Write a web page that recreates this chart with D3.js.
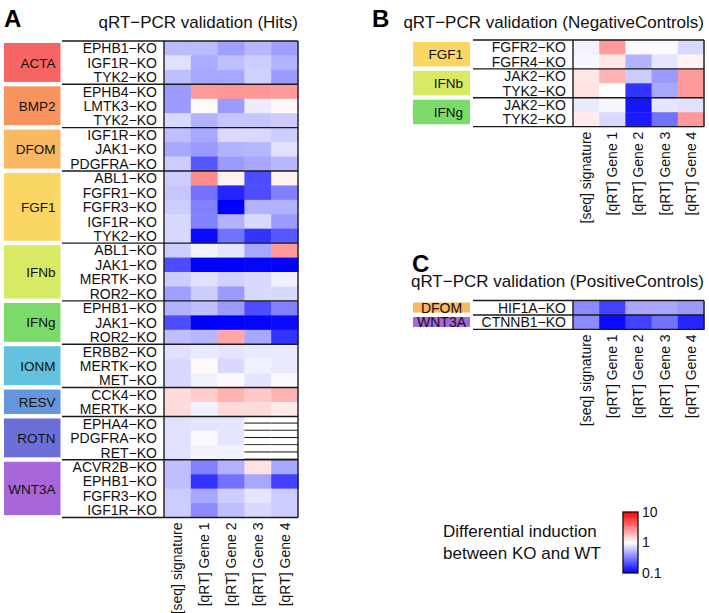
<!DOCTYPE html>
<html><head><meta charset="utf-8">
<script src="https://cdn.jsdelivr.net/npm/d3@7"></script>
<style>
html,body{margin:0;padding:0;background:#fff;}
svg{display:block;font-family:"Liberation Sans",Arial,Helvetica,sans-serif;}
</style></head>
<body><svg id="chart" width="709" height="613"></svg>
<script>
// ---------- data ----------
const columns = ["[seq] signature","[qRT] Gene 1","[qRT] Gene 2","[qRT] Gene 3","[qRT] Gene 4"];

const groupColors = {ACTA:"#f76464",BMP2:"#f8935f",DFOM:"#f8b864",FGF1:"#fad765",IFNb:"#d8ea64",
  IFNg:"#7bda6a",IONM:"#62c2dd",RESV:"#6396da",ROTN:"#6d6fd8",WNT3A:"#a767d8"};

// Panel A: Hits
const hitsGroup = ["ACTA","ACTA","ACTA","BMP2","BMP2","BMP2","DFOM","DFOM","DFOM",
  "FGF1","FGF1","FGF1","FGF1","FGF1","IFNb","IFNb","IFNb","IFNb","IFNg","IFNg","IFNg",
  "IONM","IONM","IONM","RESV","RESV","ROTN","ROTN","ROTN","WNT3A","WNT3A","WNT3A","WNT3A"];
const hitsKO = ["EPHB1−KO","IGF1R−KO","TYK2−KO","EPHB4−KO","LMTK3−KO","TYK2−KO",
  "IGF1R−KO","JAK1−KO","PDGFRA−KO","ABL1−KO","FGFR1−KO","FGFR3−KO","IGF1R−KO","TYK2−KO",
  "ABL1−KO","JAK1−KO","MERTK−KO","ROR2−KO","EPHB1−KO","JAK1−KO","ROR2−KO",
  "ERBB2−KO","MERTK−KO","MET−KO","CCK4−KO","MERTK−KO","EPHA4−KO","PDGFRA−KO","RET−KO",
  "ACVR2B−KO","EPHB1−KO","FGFR3−KO","IGF1R−KO"];
const hitsValues = [
  [0.54,0.54,0.42,0.52,0.42],
  [0.76,0.47,0.56,0.63,0.50],
  [0.56,0.45,0.45,0.66,0.40],
  [0.40,2.5,2.6,2.6,2.5],
  [0.40,1.05,0.40,0.85,1.07],
  [0.71,0.50,0.60,0.60,0.63],
  [0.56,0.45,0.71,0.71,0.63],
  [0.45,0.40,0.50,0.52,0.76],
  [0.63,0.22,0.40,0.45,0.52],
  [0.63,2.8,1.12,0.20,1.12],
  [0.60,0.28,0.14,0.20,0.32],
  [0.63,0.32,0.10,0.50,0.50],
  [0.71,0.32,0.50,0.71,0.40],
  [0.71,0.11,0.28,0.16,0.22],
  [0.63,0.89,0.79,0.45,2.5],
  [0.20,0.10,0.10,0.105,0.10],
  [0.63,0.76,0.66,0.71,0.87],
  [0.42,0.63,0.40,0.71,0.71],
  [0.50,0.56,0.40,0.20,0.32],
  [0.20,0.10,0.10,0.105,0.11],
  [0.56,0.52,2.2,0.45,0.16],
  [0.76,0.83,0.79,0.83,0.83],
  [0.71,1.05,0.71,0.87,0.83],
  [0.71,0.89,0.95,0.79,0.95],
  [1.4,1.6,2.0,1.66,2.0],
  [1.4,0.89,1.4,1.4,1.2],
  [0.76,0.79,0.79,null,null],
  [0.76,0.95,0.79,null,null],
  [0.76,0.89,0.89,null,null],
  [0.56,0.32,0.50,1.3,0.45],
  [0.56,0.16,0.28,0.45,0.18],
  [0.63,0.45,0.63,0.79,0.63],
  [0.63,0.35,0.56,0.71,0.63]
];

// Panel B: Negative controls
const negGroup = ["FGF1","FGF1","IFNb","IFNb","IFNg","IFNg"];
const negKO = ["FGFR2−KO","FGFR4−KO","JAK2−KO","TYK2−KO","JAK2−KO","TYK2−KO"];
const negValues = [
  [0.89,2.5,0.95,0.95,0.71],
  [0.93,1.26,0.50,0.79,1.12],
  [1.26,2.0,0.63,0.40,2.5],
  [1.3,1.0,0.16,0.45,2.5],
  [0.83,0.93,0.12,0.79,0.76],
  [1.2,0.71,0.126,0.28,2.5]
];

// Panel C: Positive controls
const posGroup = ["DFOM","WNT3A"];
const posKO = ["HIF1A−KO","CTNNB1−KO"];
const posValues = [
  [0.35,0.18,0.45,0.45,0.40],
  [0.35,0.11,0.18,0.28,0.14]
];

const legendTicks = [0.1,1,10];

// ---------- drawing ----------
const svg = d3.select("#chart");
const color = d3.scaleLog().domain([0.1,1,10]).range(["#0000ff","#ffffff","#ff0000"])
  .interpolate(d3.interpolateRgb).clamp(true);
const ROWH = 14.44;

function panel(o){
  const g = svg.append("g");
  const n = o.ko.length;
  const x = d3.scaleBand().domain(columns).range([o.heatL, o.heatR]);
  const y = d3.scaleBand().domain(d3.range(n)).range([o.top, o.top + n*ROWH]);
  const bottom = o.top + n*ROWH;
  // cells
  o.values.forEach((row,i)=>{
    row.forEach((v,j)=>{
      g.append("rect").attr("x",x(columns[j])).attr("y",y(i))
        .attr("width",x.bandwidth()+0.5).attr("height",y.bandwidth()+0.5)
        .attr("fill", v==null ? "#ffffff" : color(v));
      if(v==null){
        const cx0 = x(columns[j]), cx1 = cx0 + x.bandwidth();
        [y(i)+y.bandwidth()/2, y(i)+y.bandwidth()].forEach(yy=>{
          g.append("line").attr("x1",cx0).attr("x2",cx1).attr("y1",yy-0.6).attr("y2",yy-0.6)
            .attr("stroke","#222").attr("stroke-width",1.1);
        });
      }
    });
  });
  // group spans
  const groups = [];
  o.group.forEach((gname,i)=>{
    if(!groups.length || groups[groups.length-1].name!==gname) groups.push({name:gname,start:i,end:i});
    else groups[groups.length-1].end = i;
  });
  groups.forEach(gr=>{
    const y0 = y(gr.start), y1 = y(gr.end)+y.bandwidth();
    g.append("rect").attr("x",o.boxL).attr("y",y0+2).attr("width",o.boxR-o.boxL).attr("height",y1-y0-4.4)
      .attr("fill",groupColors[gr.name]);
    g.append("text").attr("x", o.groupAnchor==="middle" ? (o.boxL+o.boxR)/2 : o.boxR-o.groupPad)
      .attr("y",(y0+y1)/2).attr("dy","0.36em").attr("text-anchor",o.groupAnchor||"end")
      .attr("font-size",o.groupFont||13.5).attr("fill","#111").text(gr.name);
  });
  // row labels
  o.ko.forEach((k,i)=>{
    g.append("text").attr("x",o.heatL-7).attr("y",y(i)+y.bandwidth()/2).attr("dy","0.36em")
      .attr("text-anchor","end").attr("font-size",14).attr("fill","#111").text(k);
  });
  // separators
  const seps = [o.top].concat(groups.map(gr=>y(gr.end)+y.bandwidth()));
  seps.forEach(yy=>{
    g.append("line").attr("x1",o.lineL).attr("x2",o.heatR).attr("y1",yy).attr("y2",yy)
      .attr("stroke","#1a1a1a").attr("stroke-width",1.4);
  });
  [o.heatL,o.heatR].forEach(xx=>{
    g.append("line").attr("x1",xx).attr("x2",xx).attr("y1",o.top).attr("y2",bottom)
      .attr("stroke","#1a1a1a").attr("stroke-width",1.4);
  });
  // column labels
  columns.forEach(c=>{
    const cx = x(c)+x.bandwidth()/2, cy = bottom+5;
    g.append("text").attr("transform",`translate(${cx},${cy}) rotate(-90)`)
      .attr("text-anchor","end").attr("dy","0.35em").attr("font-size",14).attr("fill","#111").text(c);
  });
  // title & letter
  g.append("text").attr("x",o.heatR).attr("y",o.titleY).attr("text-anchor","end")
    .attr("font-size",17).attr("fill","#111").text(o.title);
  g.append("text").attr("x",o.letterX).attr("y",o.letterY).attr("font-size",24)
    .attr("font-weight","bold").attr("fill","#000").text(o.letter);
}

panel({group:hitsGroup, ko:hitsKO, values:hitsValues, boxL:4, boxR:60.5, groupPad:5,
  lineL:62, heatL:164, heatR:298, top:41, title:"qRT−PCR validation (Hits)", titleY:27.5,
  letter:"A", letterX:4, letterY:26.5});
panel({group:negGroup, ko:negKO, values:negValues, boxL:413, boxR:470, groupPad:7,
  lineL:473, heatL:573, heatR:704, top:40, title:"qRT−PCR validation (NegativeControls)", titleY:27.5,
  letter:"B", letterX:372, letterY:26.5});
panel({group:posGroup, ko:posKO, values:posValues, boxL:413, boxR:470, groupAnchor:"middle", groupFont:14,
  lineL:473, heatL:573, heatR:704, top:300.5, title:"qRT−PCR validation (PositiveControls)", titleY:286.5,
  letter:"C", letterX:412, letterY:271.5});

// ---------- legend ----------
const lg = svg.append("g");
const defs = svg.append("defs");
const grad = defs.append("linearGradient").attr("id","cbar").attr("x1","0").attr("y1","1").attr("x2","0").attr("y2","0");
const ly = d3.scaleLog().domain([0.1,10]).range([573,512]);
d3.range(0,1.0001,0.05).forEach(t=>{
  const v = Math.pow(10, -1 + 2*t);
  grad.append("stop").attr("offset",t).attr("stop-color",color(v));
});
lg.append("rect").attr("x",623).attr("y",512).attr("width",15).attr("height",61)
  .attr("fill","url(#cbar)").attr("stroke","#111").attr("stroke-width",1.3);
const ax = lg.append("g").attr("transform","translate(638,0)")
  .call(d3.axisRight(ly).tickValues(legendTicks).tickSize(0).tickPadding(4).tickFormat(d3.format("")));
ax.select(".domain").remove();
ax.selectAll("text").attr("font-size",14).attr("fill","#111")
  .attr("font-family","'Liberation Sans',Arial,Helvetica,sans-serif");
lg.append("text").attr("x",443).attr("y",537).attr("font-size",17).attr("fill","#111").text("Differential induction");
lg.append("text").attr("x",443).attr("y",559).attr("font-size",17).attr("fill","#111").text("between KO and WT");
</script></body></html>
